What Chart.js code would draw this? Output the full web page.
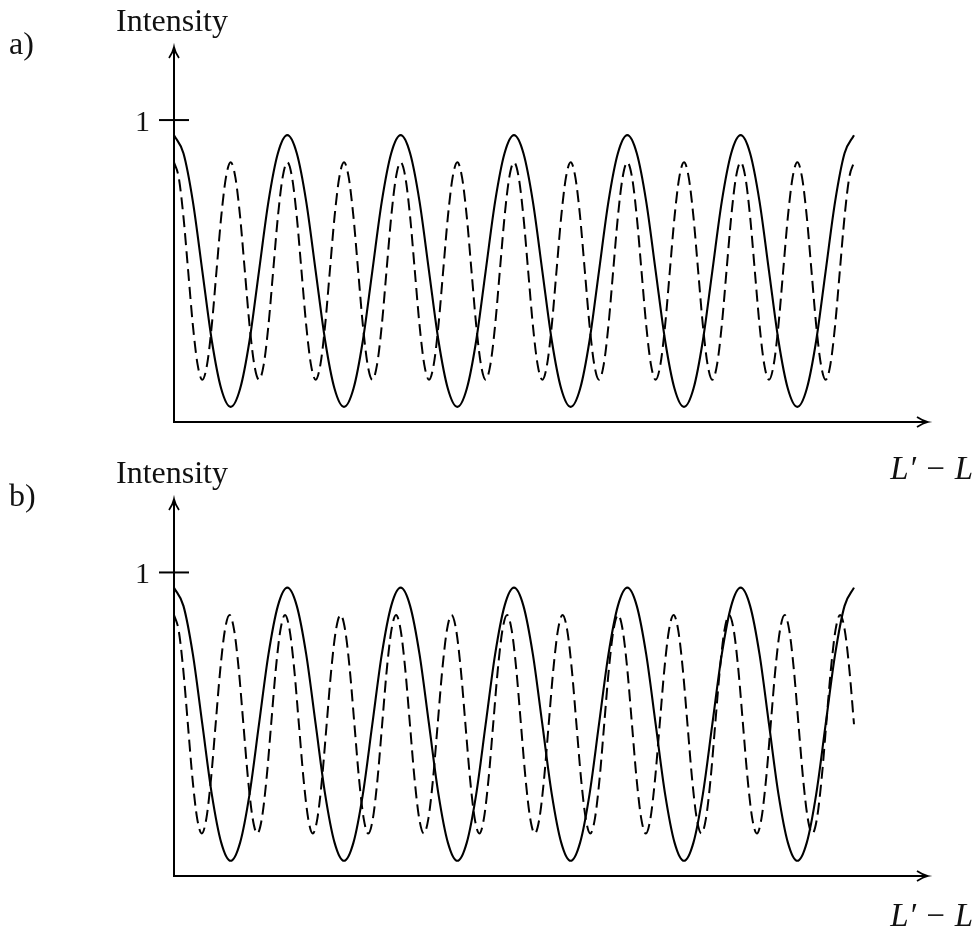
<!DOCTYPE html>
<html>
<head>
<meta charset="utf-8">
<script src="https://cdn.jsdelivr.net/npm/chart.js@4.4.0/dist/chart.umd.min.js"></script>
<style>
  body { margin: 0; background: #fff; }
  .wrap { position: relative; width: 977px; height: 929px; }
  canvas { position: absolute; left: 0; top: 0; }
</style>
</head>
<body>
<div class="wrap">
  <canvas id="chartA" width="977" height="929"></canvas>
  <canvas id="chartB" width="977" height="929"></canvas>
</div>
<script>
  const solidIntensity = [
    0.95, 0.89, 0.73, 0.5, 0.27, 0.11, 0.05, 0.11, 0.27, 0.5, 0.73, 0.89,
    0.95, 0.89, 0.73, 0.5, 0.27, 0.11, 0.05, 0.11, 0.27, 0.5, 0.73, 0.89,
    0.95, 0.89, 0.73, 0.5, 0.27, 0.11, 0.05, 0.11, 0.27, 0.5, 0.73, 0.89,
    0.95, 0.89, 0.73, 0.5, 0.27, 0.11, 0.05, 0.11, 0.27, 0.5, 0.73, 0.89,
    0.95, 0.89, 0.73, 0.5, 0.27, 0.11, 0.05, 0.11, 0.27, 0.5, 0.73, 0.89,
    0.95, 0.89, 0.73, 0.5, 0.27, 0.11, 0.05, 0.11, 0.27, 0.5, 0.73, 0.89,
    0.95
  ];
  const dashedIntensityA = [
    0.86, 0.81, 0.68, 0.5, 0.32, 0.19, 0.14, 0.19, 0.32, 0.5, 0.68, 0.81,
    0.86, 0.81, 0.68, 0.5, 0.32, 0.19, 0.14, 0.19, 0.32, 0.5, 0.68, 0.81,
    0.86, 0.81, 0.68, 0.5, 0.32, 0.19, 0.14, 0.19, 0.32, 0.5, 0.68, 0.81,
    0.86, 0.81, 0.68, 0.5, 0.32, 0.19, 0.14, 0.19, 0.32, 0.5, 0.68, 0.81,
    0.86, 0.81, 0.68, 0.5, 0.32, 0.19, 0.14, 0.19, 0.32, 0.5, 0.68, 0.81,
    0.86, 0.81, 0.68, 0.5, 0.32, 0.19, 0.14, 0.19, 0.32, 0.5, 0.68, 0.81,
    0.86, 0.81, 0.68, 0.5, 0.32, 0.19, 0.14, 0.19, 0.32, 0.5, 0.68, 0.81,
    0.86, 0.81, 0.68, 0.5, 0.32, 0.19, 0.14, 0.19, 0.32, 0.5, 0.68, 0.81,
    0.86, 0.81, 0.68, 0.5, 0.32, 0.19, 0.14, 0.19, 0.32, 0.5, 0.68, 0.81,
    0.86, 0.81, 0.68, 0.5, 0.32, 0.19, 0.14, 0.19, 0.32, 0.5, 0.68, 0.81,
    0.86, 0.81, 0.68, 0.5, 0.32, 0.19, 0.14, 0.19, 0.32, 0.5, 0.68, 0.81,
    0.86, 0.81, 0.68, 0.5, 0.32, 0.19, 0.14, 0.19, 0.32, 0.5, 0.68, 0.81,
    0.86
  ];
  const dashedIntensityB = [
    0.86, 0.81, 0.68, 0.5, 0.32, 0.19, 0.14, 0.19, 0.32, 0.5, 0.68, 0.81,
    0.86, 0.81, 0.68, 0.5, 0.32, 0.19, 0.14, 0.19, 0.32, 0.5, 0.68, 0.81,
    0.86, 0.81, 0.68, 0.5, 0.32, 0.19, 0.14, 0.19, 0.32, 0.5, 0.68, 0.81,
    0.86, 0.81, 0.68, 0.5, 0.32, 0.19, 0.14, 0.19, 0.32, 0.5, 0.68, 0.81,
    0.86, 0.81, 0.68, 0.5, 0.32, 0.19, 0.14, 0.19, 0.32, 0.5, 0.68, 0.81,
    0.86, 0.81, 0.68, 0.5, 0.32, 0.19, 0.14, 0.19, 0.32, 0.5, 0.68, 0.81,
    0.86, 0.81, 0.68, 0.5, 0.32, 0.19, 0.14, 0.19, 0.32, 0.5, 0.68, 0.81,
    0.86, 0.81, 0.68, 0.5, 0.32, 0.19, 0.14, 0.19, 0.32, 0.5, 0.68, 0.81,
    0.86, 0.81, 0.68, 0.5, 0.32, 0.19, 0.14, 0.19, 0.32, 0.5, 0.68, 0.81,
    0.86, 0.81, 0.68, 0.5, 0.32, 0.19, 0.14, 0.19, 0.32, 0.5, 0.68, 0.81,
    0.86, 0.81, 0.68, 0.5, 0.32, 0.19, 0.14, 0.19, 0.32, 0.5, 0.68, 0.81,
    0.86, 0.81, 0.68, 0.5, 0.32, 0.19, 0.14, 0.19, 0.32, 0.5, 0.68, 0.81,
    0.86, 0.81, 0.68, 0.5
  ];
  // sample spacing along L'-L, in periods of the solid curve
  const solidStep = 1 / 12;
  const dashedStepA = 1 / 24;
  const dashedStepB = 6 / 147;
  const yTicks = [1];
  const yTickLabels = ['1'];

  const serif = '"Liberation Serif", "DejaVu Serif", serif';

  function toPoints(values, step) {
    return values.map((v, i) => ({ x: i * step, y: v }));
  }

  function arrow(ctx, x, y, dir) {
    ctx.beginPath();
    if (dir === 'right') {
      ctx.moveTo(x - 11, y - 5);
      ctx.quadraticCurveTo(x - 5, y - 1, x, y);
      ctx.quadraticCurveTo(x - 5, y + 1, x - 11, y + 5);
    } else {
      ctx.moveTo(x - 5, y + 11);
      ctx.quadraticCurveTo(x - 1, y + 5, x, y);
      ctx.quadraticCurveTo(x + 1, y + 5, x + 5, y + 11);
    }
    ctx.stroke();
  }

  const axesPlugin = {
    id: 'axes',
    afterDatasetsDraw(chart, args, opts) {
      const ctx = chart.ctx;
      const xs = chart.scales.x, ys = chart.scales.y;
      const x0 = xs.getPixelForValue(0);
      const y0 = ys.getPixelForValue(0);
      const xEnd = xs.right, yEnd = ys.top;
      ctx.save();
      ctx.strokeStyle = '#000';
      ctx.fillStyle = '#111';
      ctx.lineWidth = 2;
      ctx.beginPath();
      ctx.moveTo(x0, yEnd + 1);
      ctx.lineTo(x0, y0);
      ctx.lineTo(xEnd - 1, y0);
      ctx.stroke();
      ctx.lineWidth = 1.7;
      arrow(ctx, xEnd, y0, 'right');
      arrow(ctx, x0, yEnd, 'up');
      ctx.lineWidth = 2;
      yTicks.forEach((t, i) => {
        const py = ys.getPixelForValue(t);
        ctx.beginPath();
        ctx.moveTo(x0 - 15, py);
        ctx.lineTo(x0 + 15, py);
        ctx.stroke();
        ctx.font = '30px ' + serif;
        ctx.textAlign = 'right';
        ctx.textBaseline = 'alphabetic';
        ctx.fillText(yTickLabels[i], x0 - 24, py + 11);
      });
      ctx.font = '32px ' + serif;
      ctx.textAlign = 'center';
      ctx.fillText('Intensity', x0 - 2, yEnd - 16);
      ctx.textAlign = 'left';
      ctx.fillText(opts.panel, 9, yEnd + 7);
      ctx.font = 'italic 33px ' + serif;
      ctx.textAlign = 'right';
      ctx.fillText('L\u2032 \u2212 L', 973, y0 + opts.labelDrop);
      ctx.restore();
    }
  };

  function makePanel(id, panel, dashedValues, dashedStep, pad, labelDrop) {
    return new Chart(document.getElementById(id).getContext('2d'), {
      type: 'line',
      data: {
        datasets: [{
          data: toPoints(solidIntensity, solidStep),
          borderColor: '#000',
          borderWidth: 2.1,
          pointRadius: 0,
          cubicInterpolationMode: 'monotone'
        }, {
          data: toPoints(dashedValues, dashedStep),
          borderColor: '#000',
          borderWidth: 2,
          borderDash: [12, 6],
          pointRadius: 0,
          cubicInterpolationMode: 'monotone'
        }]
      },
      options: {
        responsive: false,
        animation: false,
        layout: { padding: pad },
        plugins: {
          legend: { display: false },
          tooltip: { enabled: false },
          axes: { panel: panel, labelDrop: labelDrop }
        },
        scales: {
          x: { type: 'linear', display: false, min: 0, max: 6.653 },
          y: { display: false, min: 0, max: 1.242 }
        }
      },
      plugins: [axesPlugin]
    });
  }

  makePanel('chartA', 'a)', dashedIntensityA, dashedStepA,
    { left: 174, right: 49, top: 47, bottom: 507 }, 57);
  makePanel('chartB', 'b)', dashedIntensityB, dashedStepB,
    { left: 174, right: 49, top: 499, bottom: 53 }, 50);
</script>
</body>
</html>
